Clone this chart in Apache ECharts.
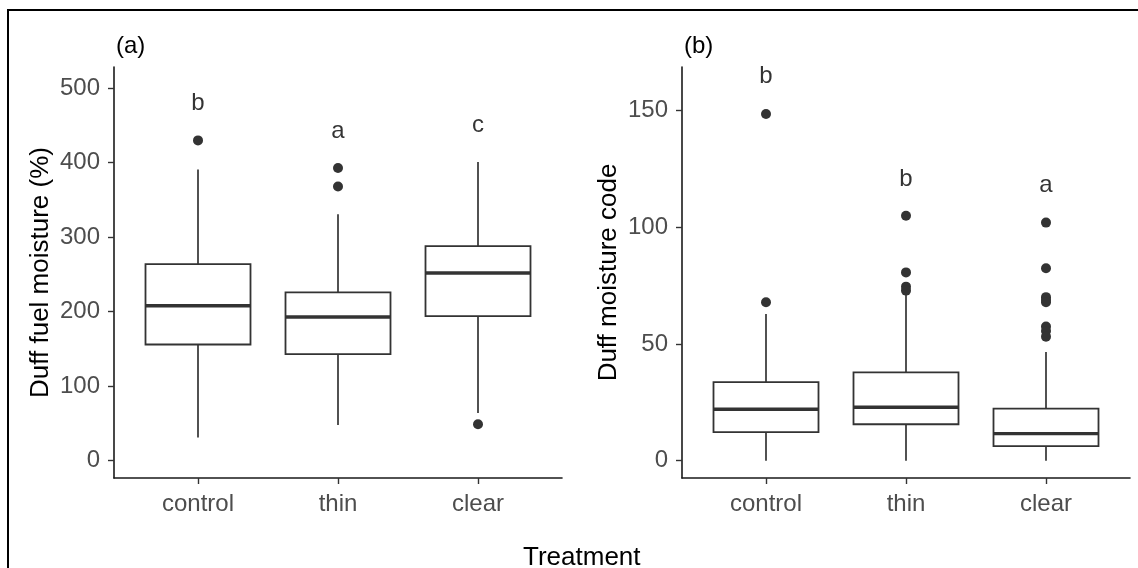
<!DOCTYPE html>
<html>
<head>
<meta charset="utf-8">
<script src="https://cdn.jsdelivr.net/npm/echarts@6/dist/echarts.min.js"></script>
<style>
  html, body { margin: 0; padding: 0; background: #fff; }
  #myChart { width: 1138px; height: 568px; }
</style>
</head>
<body>
<div id="myChart"></div>
<script>
// 数据接口
let treatments = ['control', 'thin', 'clear']
// (a) Duff fuel moisture (%) : [min, Q1, median, Q3, max]
let fuelBox = [[31, 156, 208, 264, 391], [48, 143, 193, 226, 331], [64, 194, 252, 288, 401]]
let fuelOutliers = [[0, 430], [1, 393], [1, 368], [2, 49]]
let fuelLetters = ['b', 'a', 'c']
let fuelLetterY = [480, 442, 450]
// (b) Duff moisture code
let dmcBox = [[0, 12.2, 22, 33.6, 62.8], [0, 15.6, 22.9, 37.8, 71], [0, 6.2, 11.6, 22.3, 46.5]]
let dmcOutliers = [[0, 148.4], [0, 67.8], [1, 104.8], [1, 80.6], [1, 74.5], [1, 72.8],
    [2, 101.9], [2, 82.4], [2, 70], [2, 68.8], [2, 67.8], [2, 57.4], [2, 55.5], [2, 53.1]]
let dmcLetters = ['b', 'b', 'a']
let dmcLetterY = [164.4, 120.6, 118]

let font = 'Liberation Sans, Arial, sans-serif'
let ink = '#333333'

function renderBox(params, api) {
    let x = api.value(0)
    let p = [1, 2, 3, 4, 5].map(function (i) { return api.coord([x, api.value(i)]) })
    let half = api.size([1, 0])[0] * 0.375
    let cx = p[0][0]
    let thin = { stroke: ink, lineWidth: 1.7, fill: null }
    return {
        type: 'group',
        children: [
            { type: 'line', shape: { x1: cx, y1: p[0][1], x2: cx, y2: p[1][1] }, style: thin },
            { type: 'line', shape: { x1: cx, y1: p[3][1], x2: cx, y2: p[4][1] }, style: thin },
            { type: 'rect', shape: { x: cx - half, y: p[3][1], width: half * 2, height: p[1][1] - p[3][1] },
              style: { stroke: ink, lineWidth: 1.8, fill: '#fff' } },
            { type: 'line', shape: { x1: cx - half, y1: p[2][1], x2: cx + half, y2: p[2][1] },
              style: { stroke: ink, lineWidth: 3.4, fill: null } }
        ]
    }
}

function xAxisFor(gridIndex) {
    return {
        type: 'value', gridIndex: gridIndex, min: -0.6, max: 2.6,
        splitLine: { show: false },
        axisLine: { onZero: false, lineStyle: { color: '#1a1a1a', width: 1.6 } },
        axisTick: { customValues: [0, 1, 2], length: 6, lineStyle: { color: ink, width: 1.4 } },
        axisLabel: {
            customValues: [0, 1, 2], margin: 14, fontSize: 24, color: '#4d4d4d', fontFamily: font,
            formatter: function (v) { return treatments[Math.round(v)] }
        }
    }
}

function yAxisFor(gridIndex, min, max, ticks, name) {
    return {
        type: 'value', gridIndex: gridIndex, min: min, max: max,
        name: name, nameLocation: 'middle', nameGap: 60,
        nameTextStyle: { fontSize: 26, color: '#000', fontFamily: font },
        splitLine: { show: false },
        axisLine: { show: true, onZero: false, lineStyle: { color: '#1a1a1a', width: 1.6 } },
        axisTick: { show: true, customValues: ticks, length: 6, lineStyle: { color: ink, width: 1.4 } },
        axisLabel: { customValues: ticks, margin: 14, fontSize: 24, color: '#4d4d4d', fontFamily: font }
    }
}

function letterSeries(idx, letters, ys) {
    return {
        type: 'scatter', xAxisIndex: idx, yAxisIndex: idx, symbolSize: 0, silent: true,
        data: ys.map(function (y, i) { return [i, y] }),
        label: {
            show: true, position: 'inside', fontSize: 24, color: '#000', fontFamily: font,
            formatter: function (p) { return letters[p.dataIndex] }
        }
    }
}

let myChart = echarts.init(document.getElementById('myChart'))
myChart.setOption({
    animation: false,
    backgroundColor: '#fff',
    title: [
        { text: '(a)', left: 111, top: 29, textStyle: { fontSize: 24, fontWeight: 'normal', color: '#000', fontFamily: font } },
        { text: '(b)', left: 679, top: 29, textStyle: { fontSize: 24, fontWeight: 'normal', color: '#000', fontFamily: font } },
        { text: 'Treatment', left: 518, top: 540, textStyle: { fontSize: 26, fontWeight: 'normal', color: '#000', fontFamily: font } }
    ],
    graphic: [{
        type: 'rect', shape: { x: 8, y: 10, width: 1140, height: 580 },
        style: { fill: 'none', stroke: '#000', lineWidth: 2 }
    }],
    grid: [
        { left: 114, top: 67, width: 448, height: 411 },
        { left: 682, top: 67, width: 448, height: 411 }
    ],
    xAxis: [xAxisFor(0), xAxisFor(1)],
    yAxis: [
        yAxisFor(0, -23.2, 528.5, [0, 100, 200, 300, 400, 500], 'Duff fuel moisture (%)'),
        yAxisFor(1, -7.4, 168.5, [0, 50, 100, 150], 'Duff moisture code')
    ],
    series: [
        {
            type: 'custom', xAxisIndex: 0, yAxisIndex: 0, renderItem: renderBox,
            encode: { x: 0, y: [1, 2, 3, 4, 5] },
            data: fuelBox.map(function (b, i) { return [i].concat(b) })
        },
        {
            type: 'scatter', xAxisIndex: 0, yAxisIndex: 0, symbolSize: 10,
            itemStyle: { color: ink, opacity: 1 }, data: fuelOutliers
        },
        letterSeries(0, fuelLetters, fuelLetterY),
        {
            type: 'custom', xAxisIndex: 1, yAxisIndex: 1, renderItem: renderBox,
            encode: { x: 0, y: [1, 2, 3, 4, 5] },
            data: dmcBox.map(function (b, i) { return [i].concat(b) })
        },
        {
            type: 'scatter', xAxisIndex: 1, yAxisIndex: 1, symbolSize: 10,
            itemStyle: { color: ink, opacity: 1 }, data: dmcOutliers
        },
        letterSeries(1, dmcLetters, dmcLetterY)
    ]
});
</script>
</body>
</html>
